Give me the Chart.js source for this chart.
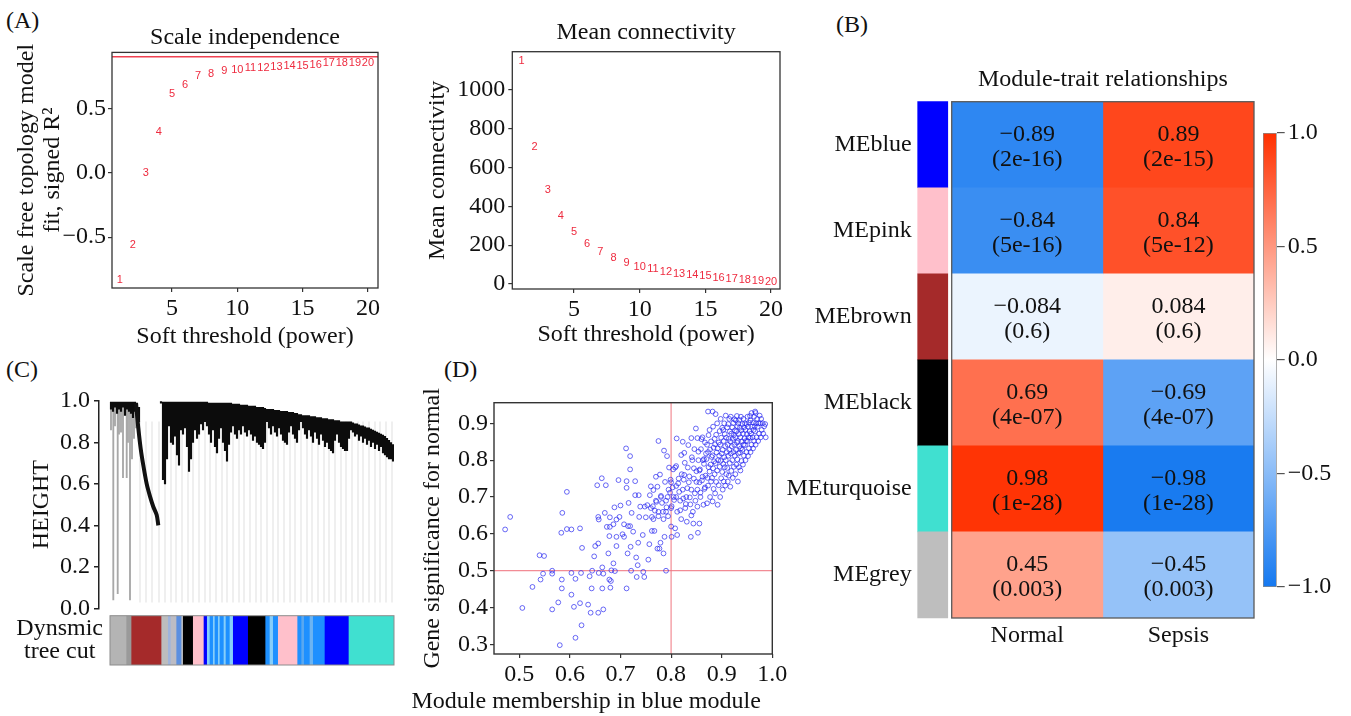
<!DOCTYPE html>
<html>
<head>
<meta charset="utf-8">
<script src="https://cdn.jsdelivr.net/npm/chart.js@4.4.0/dist/chart.umd.min.js"></script>
<style>
  body { margin: 0; background: #fff; width: 1351px; height: 716px; overflow: hidden; position: relative; font-family: 'Liberation Serif', serif; }
  .panel { position: absolute; }
  .tag { position: absolute; font-size: 24px; line-height: 24px; color: #111; }
</style>
</head>
<body>
<div class="tag" style="left:6px;top:8px">(A)</div>
<div class="tag" style="left:836px;top:12px">(B)</div>
<div class="tag" style="left:6px;top:357px">(C)</div>
<div class="tag" style="left:444px;top:357px">(D)</div>

<div class="panel" style="left:0;top:0;width:400px;height:360px"><canvas id="scale-fit"></canvas></div>
<div class="panel" style="left:400px;top:0;width:400px;height:360px"><canvas id="mean-k"></canvas></div>
<div class="panel" style="left:780px;top:40px;width:490px;height:618px"><canvas id="trait-heat"></canvas></div>
<div class="panel" style="left:1240px;top:100px;width:111px;height:520px"><canvas id="heat-scale"></canvas></div>
<div class="panel" style="left:0;top:381px;width:400px;height:249px"><canvas id="dendro"></canvas></div>
<div class="panel" style="left:0;top:600px;width:400px;height:116px"><canvas id="tree-cut"></canvas></div>
<div class="panel" style="left:400px;top:370px;width:472px;height:346px"><canvas id="mm-gs"></canvas></div>

<script>
// ---- (A) soft threshold ----
const powers = [1, 2, 3, 4, 5, 6, 7, 8, 9, 10, 11, 12, 13, 14, 15, 16, 17, 18, 19, 20];
const scaleFitR2 = [-0.83, -0.56, 0.0, 0.32, 0.61, 0.68, 0.75, 0.77, 0.79, 0.80, 0.81, 0.81, 0.82, 0.83, 0.83, 0.84, 0.85, 0.85, 0.85, 0.85];
const meanConnectivity = [1149, 705, 483, 348, 268, 205, 165, 132, 107, 89, 76, 64, 52, 44, 39, 30, 27, 21, 17, 12];
const r2Cutoff = 0.9;

// ---- (B) module-trait relationships ----
const modules = ['MEblue', 'MEpink', 'MEbrown', 'MEblack', 'MEturquoise', 'MEgrey'];
const moduleColors = ['#0000ff', '#ffc0cb', '#a52a2a', '#000000', '#40e0d0', '#bebebe'];
const traits = ['Normal', 'Sepsis'];
const normalCorr = [-0.89, -0.84, -0.084, 0.69, 0.98, 0.45];
const normalP = ['2e-16', '5e-16', '0.6', '4e-07', '1e-28', '0.003'];
const sepsisCorr = [0.89, 0.84, 0.084, -0.69, -0.98, -0.45];
const sepsisP = ['2e-15', '5e-12', '0.6', '4e-07', '1e-28', '0.003'];
const colorbarTicks = [-1, -0.5, 0, 0.5, 1];

// ---- (C) gene dendrogram, one column every 2 leaf units (null = no branch mass) ----
const branchTop = [
  0.995, 0.995, 0.995, 0.995, 0.995, 0.995, 0.995, 0.995, 0.995, 0.995, 0.995, 0.995, 0.995,
  0.99, 0.97, null, null, null, null, null, null, null, null, null, null,
  0.997, 0.995, 0.995, 0.995,
  0.995, 0.995, 0.995, 0.995, 0.995, 0.995, 0.995, 0.995, 0.995, 0.995,
  0.995, 0.995, 0.995, 0.995, 0.995, 0.995, 0.995, 0.995, 0.995, 0.995,
  0.99, 0.99, 0.99, 0.99, 0.99, 0.99, 0.99, 0.99, 0.99, 0.99, 0.99, 0.99,
  0.985, 0.985, 0.985, 0.985, 0.98, 0.98, 0.98, 0.98, 0.975, 0.975, 0.975, 0.975,
  0.97, 0.97, 0.97, 0.97, 0.965,
  0.96, 0.96, 0.96, 0.96, 0.955, 0.955, 0.955, 0.95, 0.95, 0.95, 0.95, 0.945, 0.945, 0.945, 0.94, 0.94, 0.935,
  0.935, 0.93, 0.93, 0.93, 0.93, 0.925, 0.925, 0.925, 0.92, 0.92, 0.92, 0.915, 0.915, 0.915, 0.91, 0.91, 0.91,
  0.905, 0.905, 0.905, 0.90, 0.90, 0.90, 0.90, 0.90,
  0.90, 0.895, 0.89, 0.89, 0.885, 0.88, 0.88, 0.875, 0.87, 0.87, 0.865, 0.86, 0.855, 0.85, 0.845, 0.84,
  0.835, 0.83, 0.82, 0.81, 0.80, 0.79
];
const branchLow = [
  0.96, 0.95, 0.97, 0.94, 0.96, 0.95, 0.97, 0.93, 0.96, 0.95, 0.94, 0.92, 0.95,
  0.92, 0.90, null, null, null, null, null, null, null, null, null, null,
  0.99, 0.62, 0.60, 0.72,
  0.88, 0.80, 0.79, 0.83, 0.74, 0.69, 0.86, 0.84, 0.87, 0.78,
  0.66, 0.72, 0.80, 0.86, 0.82, 0.84, 0.89, 0.86, 0.90, 0.88,
  0.84, 0.80, 0.86, 0.78, 0.75, 0.82, 0.87, 0.80, 0.76, 0.71, 0.79, 0.85,
  0.88, 0.84, 0.82, 0.86, 0.84, 0.88, 0.85, 0.83, 0.86, 0.84, 0.81, 0.83,
  0.80, 0.79, 0.78, 0.77, 0.80,
  0.90, 0.87, 0.84, 0.88, 0.85, 0.83, 0.87, 0.84, 0.81, 0.80, 0.79, 0.85, 0.88, 0.84, 0.82, 0.80, 0.86,
  0.90, 0.87, 0.84, 0.82, 0.86, 0.83, 0.80, 0.85, 0.82, 0.79, 0.84, 0.81, 0.78, 0.80, 0.77, 0.76, 0.75,
  0.81, 0.84, 0.80, 0.78, 0.77, 0.76, 0.76, 0.82,
  0.86, 0.85, 0.83, 0.84, 0.81, 0.83, 0.80, 0.82, 0.79, 0.81, 0.78, 0.80, 0.77, 0.79, 0.76, 0.78,
  0.75, 0.74, 0.73, 0.72, 0.72, 0.71
];
// the long brown-module branch
const tailX = [26, 26.7, 28.3, 30.7, 33.3, 36.7, 40, 43.3, 46.7, 48.3];
const tailY = [0.99, 0.95, 0.87, 0.77, 0.69, 0.60, 0.54, 0.49, 0.45, 0.40];
// grey singleton leaves and shaded sub-branches of the left cluster
const greyLeafX = [1, 3.3, 5, 7.7, 9, 11, 13, 16.7, 18, 20, 22, 24, 26];
const greyLeafLow = [0.86, 0.04, 0.88, 0.07, 0.84, 0.85, 0.63, 0.63, 0.80, 0.04, 0.72, 0.82, 0.87];
const faintLeafX = [30, 36, 42, 49, 55, 61, 66, 72, 78, 83, 89, 95, 100, 106, 112, 117, 123, 129, 134, 140, 146, 151,
  157, 163, 168, 174, 180, 185, 191, 197, 202, 208, 214, 219, 225, 231, 236, 242, 248, 253, 259, 265, 270, 276, 282];
const leafFloor = 0.03;

// dynamic tree cut colour strip, in the same leaf units
const cutStart = [0, 16.7, 21.7, 51.7, 58.3, 61, 66.7, 71.7, 73.3, 83.3, 94, 97.3, 100, 103.3, 105, 108.3, 110, 114, 116, 120,
  123.3, 138.3, 155.7, 160, 163.3, 168.3, 187.7, 191.7, 194.3, 200, 203.3, 215, 239];
const cutEnd = [16.7, 21.7, 51.7, 58.3, 61, 66.7, 71.7, 73.3, 83.3, 94, 97.3, 100, 103.3, 105, 108.3, 110, 114, 116, 120, 123.3,
  138.3, 155.7, 160, 163.3, 168.3, 187.7, 191.7, 194.3, 200, 203.3, 215, 239, 284];
const cutColor = ['#b4b4b4', '#9a9a9a', '#a52a2a', '#bdbdbd', '#9fb4dc', '#bcbcc4', '#5b8fe0', '#bdbdbd', '#000000', '#ffc0cb',
  '#0000ff', '#87cefa', '#1e90ff', '#87cefa', '#1e90ff', '#87cefa', '#1e90ff', '#87cefa', '#1e90ff', '#87cefa',
  '#0000ff', '#000000', '#1e90ff', '#87cefa', '#1e90ff', '#ffc0cb', '#1e90ff', '#5aa8f0', '#1e90ff', '#6cb4f2', '#1e90ff',
  '#0000ff', '#40e0d0'];

// ---- (D) module membership vs gene significance ----
const mmThreshold = 0.8;
const gsThreshold = 0.5;
const genePoints = [
  [0.472,0.612],[0.482,0.646],[0.506,0.399],[0.526,0.456],[0.540,0.542],[0.549,0.540],[0.542,0.476],[0.547,0.492],
  [0.565,0.500],[0.565,0.492],[0.565,0.395],[0.577,0.414],[0.580,0.298],[0.584,0.476],[0.584,0.452],[0.583,0.603],
  [0.585,0.657],[0.594,0.714],[0.594,0.613],[0.603,0.612],[0.603,0.494],[0.603,0.435],[0.608,0.402],[0.611,0.478],
  [0.611,0.318],[0.620,0.615],[0.620,0.412],[0.622,0.494],[0.623,0.352],[0.624,0.562],[0.636,0.408],[0.639,0.485],
  [0.641,0.386],[0.643,0.452],[0.644,0.500],[0.648,0.539],[0.650,0.567],[0.654,0.732],[0.656,0.646],[0.656,0.574],
  [0.657,0.494],[0.656,0.386],[0.657,0.639],[0.663,0.751],[0.664,0.509],[0.664,0.452],[0.666,0.395],[0.666,0.492],
  [0.669,0.657],[0.671,0.732],[0.673,0.619],[0.676,0.547],[0.678,0.476],[0.678,0.594],[0.679,0.645],[0.679,0.619],
  [0.680,0.454],[0.681,0.472],[0.682,0.501],[0.686,0.626],[0.686,0.520],[0.688,0.672],[0.689,0.499],[0.692,0.567],
  [0.692,0.592],[0.692,0.639],[0.696,0.746],[0.698,0.646],[0.700,0.677],[0.704,0.599],[0.707,0.626],[0.707,0.592],
  [0.711,0.832],[0.712,0.725],[0.712,0.743],[0.712,0.452],[0.714,0.547],[0.715,0.621],[0.716,0.684],[0.719,0.811],
  [0.719,0.775],[0.719,0.621],[0.720,0.565],[0.721,0.500],[0.722,0.657],[0.725,0.606],[0.729,0.743],[0.729,0.705],
  [0.731,0.536],[0.732,0.483],[0.734,0.515],[0.735,0.576],[0.736,0.705],[0.737,0.646],[0.739,0.674],[0.744,0.597],
  [0.745,0.497],[0.747,0.483],[0.748,0.674],[0.750,0.645],[0.753,0.678],[0.755,0.530],[0.757,0.572],[0.758,0.705],
  [0.760,0.729],[0.762,0.646],[0.762,0.608],[0.764,0.675],[0.765,0.719],[0.767,0.608],[0.768,0.663],[0.770,0.755],
  [0.771,0.687],[0.773,0.728],[0.773,0.560],[0.775,0.852],[0.775,0.648],[0.777,0.560],[0.778,0.761],[0.779,0.576],
  [0.780,0.703],[0.782,0.684],[0.784,0.660],[0.785,0.547],[0.786,0.826],[0.787,0.592],[0.788,0.741],[0.790,0.500],
  [0.791,0.672],[0.792,0.811],[0.793,0.700],[0.794,0.648],[0.796,0.780],[0.798,0.712],[0.799,0.747],[0.801,0.592],
  [0.801,0.675],[0.803,0.726],[0.804,0.775],[0.806,0.692],[0.808,0.615],[0.810,0.784],[0.811,0.859],[0.812,0.597],
  [0.814,0.737],[0.816,0.714],[0.818,0.664],[0.820,0.814],[0.821,0.762],[0.823,0.850],[0.824,0.696],[0.825,0.747],
  [0.827,0.793],[0.829,0.681],[0.831,0.633],[0.832,0.724],[0.834,0.841],[0.836,0.756],[0.837,0.699],[0.839,0.592],
  [0.841,0.808],[0.843,0.660],[0.844,0.628],[0.845,0.778],[0.847,0.710],[0.849,0.886],[0.850,0.741],[0.852,0.674],
  [0.853,0.603],[0.854,0.823],[0.856,0.628],[0.857,0.775],[0.858,0.712],[0.860,0.857],[0.862,0.755],[0.864,0.679],
  [0.865,0.803],[0.867,0.726],
  [0.79,0.69],[0.795,0.72],[0.80,0.67],[0.805,0.70],[0.81,0.73],[0.812,0.66],[0.815,0.75],[0.818,0.69],[0.82,0.64],
  [0.823,0.72],[0.826,0.76],[0.828,0.67],[0.83,0.70],[0.833,0.78],[0.835,0.74],[0.838,0.68],[0.84,0.72],[0.842,0.80],
  [0.845,0.75],[0.848,0.69],[0.85,0.77],[0.852,0.72],[0.854,0.80],[0.856,0.74],[0.84,0.65],[0.785,0.64],[0.78,0.70],
  [0.775,0.66],[0.77,0.69],[0.765,0.64],[0.76,0.67],[0.80,0.62],[0.808,0.78],[0.826,0.82],[0.846,0.83],[0.852,0.86],
  [0.84,0.86],[0.80,0.74],[0.79,0.66],[0.81,0.70],
  [0.858,0.70],[0.861,0.745],[0.856,0.772],[0.863,0.80],[0.859,0.83],[0.862,0.862],
  [0.866,0.722],[0.868,0.758],[0.865,0.79],[0.869,0.818],[0.867,0.848],
  [0.871,0.683],[0.873,0.731],[0.872,0.752],[0.874,0.781],[0.87,0.803],[0.873,0.822],[0.871,0.842],[0.874,0.868],[0.873,0.932],
  [0.877,0.70],[0.879,0.742],[0.876,0.769],[0.878,0.788],[0.88,0.809],[0.877,0.829],[0.879,0.851],[0.876,0.882],[0.882,0.932],
  [0.882,0.688],[0.884,0.722],[0.881,0.752],[0.883,0.778],[0.885,0.797],[0.882,0.813],[0.884,0.834],[0.886,0.858],[0.883,0.891],
  [0.887,0.71],[0.889,0.741],[0.886,0.762],[0.888,0.792],[0.89,0.821],[0.887,0.843],[0.889,0.869],[0.891,0.90],[0.888,0.925],
  [0.892,0.679],[0.894,0.732],[0.891,0.772],[0.893,0.80],[0.895,0.812],[0.892,0.832],[0.894,0.848],[0.896,0.879],
  [0.897,0.70],[0.899,0.751],[0.896,0.782],[0.898,0.798],[0.9,0.818],[0.897,0.842],[0.899,0.861],[0.901,0.888],[0.898,0.912],
  [0.902,0.72],[0.904,0.742],[0.901,0.768],[0.903,0.79],[0.905,0.808],[0.902,0.828],[0.904,0.852],[0.906,0.871],[0.903,0.882],[0.905,0.90],
  [0.907,0.731],[0.909,0.762],[0.906,0.781],[0.908,0.80],[0.91,0.822],[0.907,0.838],[0.909,0.861],[0.911,0.889],[0.908,0.921],
  [0.912,0.742],[0.914,0.758],[0.911,0.779],[0.913,0.812],[0.915,0.828],[0.912,0.842],[0.914,0.858],[0.916,0.878],[0.913,0.898],[0.915,0.912],
  [0.917,0.728],[0.919,0.771],[0.916,0.792],[0.918,0.818],[0.92,0.838],[0.917,0.851],[0.919,0.872],[0.921,0.889],[0.918,0.918],
  [0.922,0.752],[0.924,0.782],[0.921,0.80],[0.923,0.822],[0.925,0.842],[0.922,0.858],[0.924,0.868],[0.926,0.881],[0.923,0.901],[0.925,0.911],
  [0.927,0.762],[0.929,0.788],[0.926,0.812],[0.928,0.828],[0.93,0.848],[0.927,0.862],[0.929,0.878],[0.931,0.892],[0.928,0.908],[0.93,0.92],
  [0.932,0.742],[0.934,0.781],[0.931,0.802],[0.933,0.818],[0.935,0.838],[0.932,0.852],[0.934,0.871],[0.936,0.888],[0.933,0.90],[0.935,0.909],
  [0.937,0.772],[0.939,0.798],[0.936,0.821],[0.938,0.832],[0.94,0.851],[0.937,0.862],[0.939,0.881],[0.941,0.898],[0.938,0.918],
  [0.942,0.788],[0.944,0.812],[0.941,0.828],[0.943,0.842],[0.945,0.859],[0.942,0.872],[0.944,0.889],[0.946,0.90],[0.943,0.912],
  [0.947,0.80],[0.949,0.822],[0.946,0.841],[0.948,0.852],[0.95,0.871],[0.947,0.882],[0.949,0.898],[0.951,0.918],
  [0.952,0.811],[0.954,0.832],[0.951,0.852],[0.953,0.862],[0.955,0.878],[0.952,0.891],[0.954,0.902],[0.956,0.92],
  [0.957,0.822],[0.959,0.842],[0.956,0.861],[0.958,0.872],[0.96,0.891],[0.957,0.908],[0.959,0.928],
  [0.962,0.832],[0.964,0.852],[0.961,0.862],[0.963,0.882],[0.965,0.892],[0.962,0.902],[0.964,0.918],[0.966,0.932],
  [0.967,0.842],[0.969,0.862],[0.966,0.878],[0.968,0.90],[0.97,0.912],[0.967,0.928],
  [0.972,0.852],[0.974,0.872],[0.971,0.891],[0.973,0.90],[0.975,0.921],
  [0.977,0.862],[0.979,0.882],[0.976,0.90],[0.978,0.912],
  [0.982,0.872],[0.984,0.892],[0.981,0.90],[0.987,0.862],[0.986,0.898]
];

// ------------------------------------------------------------
Chart.defaults.font.family = "'Liberation Serif', 'Times New Roman', serif";
Chart.defaults.font.size = 24;
Chart.defaults.font.lineHeight = 1.2;
Chart.defaults.color = '#111';
Chart.defaults.animation = false;
Chart.defaults.responsive = true;
Chart.defaults.maintainAspectRatio = false;
Chart.defaults.plugins.legend.display = false;
Chart.defaults.plugins.tooltip.enabled = false;

const minus = v => String(v).replace('-', '\u2212');
const oneDecimal = v => minus(Number(v).toFixed(1));

// force an axis box to a fixed size so the plot areas line up
function fixSize(width, height) {
  return scale => {
    if (width != null) scale.width = width;
    if (height != null) scale.height = height;
    scale.paddingTop = scale.paddingBottom = scale.paddingLeft = scale.paddingRight = 0;
  };
}
const setTicks = values => scale => { scale.ticks = values.map(v => ({ value: v })); };

function corrColor(v) {
  const t = Math.min(1, Math.abs(v));
  const end = v < 0 ? [20, 120, 240] : [255, 48, 0];
  const c = end.map(e => Math.round(255 + (e - 255) * t));
  return `rgb(${c[0]}, ${c[1]}, ${c[2]})`;
}

const framePlugin = {
  id: 'frame',
  afterDatasetsDraw(chart, args, opts) {
    if (!opts || !opts.color) return;
    const { ctx, chartArea: a } = chart;
    ctx.save();
    ctx.strokeStyle = opts.color;
    ctx.lineWidth = opts.width || 1;
    ctx.strokeRect(a.left, a.top, a.right - a.left, a.bottom - a.top);
    ctx.restore();
  }
};

const pointTextPlugin = {
  id: 'pointText',
  afterDatasetsDraw(chart) {
    const ctx = chart.ctx;
    chart.data.datasets.forEach((ds, di) => {
      if (!ds.pointLabels) return;
      ctx.save();
      ctx.font = "11px 'Liberation Sans', Arial, sans-serif";
      ctx.fillStyle = ds.labelColor;
      ctx.textAlign = 'center';
      ctx.textBaseline = 'middle';
      chart.getDatasetMeta(di).data.forEach((el, i) => ctx.fillText(ds.pointLabels[i], el.x, el.y));
      ctx.restore();
    });
  }
};

const cellTextPlugin = {
  id: 'cellText',
  afterDatasetsDraw(chart) {
    const ctx = chart.ctx;
    chart.data.datasets.forEach((ds, di) => {
      if (!ds.cellValues) return;
      ctx.save();
      ctx.font = "24px 'Liberation Serif', serif";
      ctx.fillStyle = '#111';
      ctx.textAlign = 'center';
      ctx.textBaseline = 'middle';
      chart.getDatasetMeta(di).data.forEach((el, i) => {
        const cx = (el.x + el.base) / 2;
        ctx.fillText(minus(ds.cellValues[i]), cx, el.y - 10);
        ctx.fillText('(' + ds.cellP[i] + ')', cx, el.y + 15);
      });
      ctx.restore();
    });
  }
};

const tickGrid = { drawOnChartArea: false, drawTicks: true, tickLength: 4, color: '#333', lineWidth: 1.2 };
const noGrid = { display: false, drawTicks: false };

// ---- (A) left: scale independence ----
new Chart(document.getElementById('scale-fit'), {
  type: 'scatter',
  data: {
    datasets: [
      {
        data: powers.map((p, i) => ({ x: p, y: scaleFitR2[i] })),
        pointRadius: 0,
        pointLabels: powers.map(String),
        labelColor: '#ee2a3e'
      },
      {
        type: 'line',
        data: [{ x: 0.41, y: r2Cutoff }, { x: 20.77, y: r2Cutoff }],
        borderColor: '#f04050',
        borderWidth: 1.6,
        pointRadius: 0
      }
    ]
  },
  options: {
    layout: { padding: { right: 22 } },
    plugins: {
      frame: { color: '#333', width: 1.3 },
      title: { display: true, text: 'Scale independence', fullSize: false, font: { weight: 'normal', size: 24 }, padding: { top: 23.6, bottom: 0 } }
    },
    scales: {
      x: {
        type: 'linear', min: 0.41, max: 20.77,
        afterBuildTicks: setTicks([5, 10, 15, 20]),
        ticks: { padding: 2 },
        grid: tickGrid, border: { display: false },
        title: { display: true, text: 'Soft threshold (power)', padding: { top: 0, bottom: 8.6 } },
        afterFit: fixSize(null, 72)
      },
      y: {
        min: -0.895, max: 0.934,
        afterBuildTicks: setTicks([-0.5, 0, 0.5]),
        ticks: { padding: 2, callback: oneDecimal },
        grid: tickGrid, border: { display: false },
        title: { display: true, text: ['Scale free topology model', 'fit, signed R\u00b2'], font: { size: 24, lineHeight: 1.08 }, padding: { top: 14 } },
        afterFit: fixSize(112, null)
      }
    }
  },
  plugins: [framePlugin, pointTextPlugin]
});

// ---- (A) right: mean connectivity ----
new Chart(document.getElementById('mean-k'), {
  type: 'scatter',
  data: {
    datasets: [{
      data: powers.map((p, i) => ({ x: p, y: meanConnectivity[i] })),
      pointRadius: 0,
      pointLabels: powers.map(String),
      labelColor: '#ee2a3e'
    }]
  },
  options: {
    layout: { padding: { right: 20 } },
    plugins: {
      frame: { color: '#333', width: 1.3 },
      title: { display: true, text: 'Mean connectivity', fullSize: false, font: { weight: 'normal', size: 24 }, padding: { top: 17.9, bottom: 5 } }
    },
    scales: {
      x: {
        type: 'linear', min: 0.3, max: 20.68,
        afterBuildTicks: setTicks([5, 10, 15, 20]),
        ticks: { padding: 2 },
        grid: tickGrid, border: { display: false },
        title: { display: true, text: 'Soft threshold (power)', padding: { top: 0, bottom: 10.6 } },
        afterFit: fixSize(null, 71)
      },
      y: {
        min: -26, max: 1197,
        afterBuildTicks: setTicks([0, 200, 400, 600, 800, 1000]),
        ticks: { padding: 3, callback: v => String(v) },
        grid: tickGrid, border: { display: false },
        title: { display: true, text: 'Mean connectivity', padding: { top: 23.6 } },
        afterFit: fixSize(112.3, null)
      }
    }
  },
  plugins: [framePlugin, pointTextPlugin]
});

// ---- (B) heatmap ----
const barCell = { grouped: false, barPercentage: 1, categoryPercentage: 1, borderWidth: 0 };
new Chart(document.getElementById('trait-heat'), {
  type: 'bar',
  data: {
    labels: modules,
    datasets: [
      Object.assign({ data: modules.map((m, i) => ({ y: i, x: [0, 1] })), backgroundColor: normalCorr.map(corrColor),
        cellValues: normalCorr, cellP: normalP }, barCell),
      Object.assign({ data: modules.map((m, i) => ({ y: i, x: [1, 2] })), backgroundColor: sepsisCorr.map(corrColor),
        cellValues: sepsisCorr, cellP: sepsisP }, barCell),
      Object.assign({ data: modules.map((m, i) => ({ y: i, x: [-0.225, -0.026] })), backgroundColor: moduleColors, clip: false }, barCell)
    ]
  },
  options: {
    indexAxis: 'y',
    layout: { padding: { right: 16 } },
    plugins: {
      frame: { color: '#5a5a5a', width: 1.3 },
      title: { display: true, text: 'Module-trait relationships', fullSize: false, font: { weight: 'normal', size: 24 }, padding: { top: 25.6, bottom: 7.3 } }
    },
    scales: {
      x: {
        type: 'linear', min: 0, max: 2,
        afterBuildTicks: setTicks([0.5, 1.5]),
        ticks: { padding: 3, callback: v => traits[Math.floor(v)] },
        grid: noGrid, border: { display: false },
        afterFit: fixSize(null, 40)
      },
      y: {
        type: 'category',
        ticks: { padding: 40 },
        grid: noGrid, border: { display: false },
        afterFit: fixSize(171.7, null)
      }
    }
  },
  plugins: [framePlugin, cellTextPlugin]
});

// ---- (B) colour key ----
new Chart(document.getElementById('heat-scale'), {
  type: 'bar',
  data: {
    labels: ['r'],
    datasets: [{
      data: [[-1, 1]],
      backgroundColor: ctx => {
        const a = ctx.chart.chartArea;
        if (!a) return '#fff';
        const g = ctx.chart.ctx.createLinearGradient(0, a.bottom, 0, a.top);
        g.addColorStop(0, corrColor(-1));
        g.addColorStop(0.5, '#ffffff');
        g.addColorStop(1, corrColor(1));
        return g;
      },
      borderColor: '#8a8a8a', borderWidth: 1, borderSkipped: false,
      barPercentage: 1, categoryPercentage: 1
    }]
  },
  options: {
    layout: { padding: { left: 23, top: 33, bottom: 33 } },
    scales: {
      x: { display: false },
      y: {
        position: 'right', min: -1, max: 1,
        afterBuildTicks: setTicks(colorbarTicks),
        ticks: { padding: 3, callback: oneDecimal },
        grid: { drawOnChartArea: false, tickLength: 8, color: '#555', lineWidth: 1.2 },
        border: { display: false },
        afterFit: fixSize(74.3, null)
      }
    }
  }
});

// ---- (C) dendrogram ----
const branchData = [];
branchLow.forEach((lo, i) => {
  if (lo !== null) branchData.push({ x: 2 * i + 1, y: [lo, branchTop[i]] });
});
new Chart(document.getElementById('dendro'), {
  type: 'bar',
  data: {
    datasets: [
      { type: 'line', data: tailX.map((x, i) => ({ x: x, y: tailY[i] })), borderColor: '#111',
        borderWidth: 4, pointRadius: 0, tension: 0.3 },
      { data: branchData, backgroundColor: '#0c0c0c', barThickness: 1.5, grouped: false },
      { data: greyLeafX.map((x, i) => ({ x: x, y: [greyLeafLow[i], 0.97] })), backgroundColor: '#a8a8a8',
        barThickness: 1.2, grouped: false },
      { data: faintLeafX.map(x => ({ x: x, y: [leafFloor, 0.9] })), backgroundColor: '#ececec',
        barThickness: 1, grouped: false }
    ]
  },
  options: {
    layout: { padding: { top: 20, bottom: 21.7, right: 6 } },
    scales: {
      x: { type: 'linear', display: false, offset: false, min: -11, max: 284 },
      y: {
        min: 0, max: 1,
        afterBuildTicks: setTicks([0, 0.2, 0.4, 0.6, 0.8, 1.0]),
        ticks: { padding: 4, callback: v => Number(v).toFixed(1) },
        grid: { drawOnChartArea: false, tickLength: 5, color: '#222', lineWidth: 1.5 },
        border: { display: true, color: '#222', width: 1.5 },
        title: { display: true, text: 'HEIGHT', padding: { top: 27.3 } },
        afterFit: fixSize(99, null)
      }
    }
  }
});

// ---- (C) dynamic tree cut strip ----
new Chart(document.getElementById('tree-cut'), {
  type: 'bar',
  data: {
    labels: [['Dynsmic', 'tree cut']],
    datasets: [{
      data: cutStart.map((s, i) => ({ y: 0, x: [s, cutEnd[i]] })),
      backgroundColor: cutColor,
      grouped: false, barPercentage: 1, categoryPercentage: 1, borderWidth: 0
    }]
  },
  options: {
    indexAxis: 'y',
    layout: { padding: { top: 15.7, bottom: 51, right: 6 } },
    plugins: { frame: { color: '#8c8c8c', width: 1 } },
    scales: {
      x: { type: 'linear', display: false, min: 0, max: 284 },
      y: {
        ticks: { crossAlign: 'center', padding: 7, font: { size: 24, lineHeight: 0.98 } },
        grid: noGrid, border: { display: false },
        afterFit: fixSize(110, null)
      }
    }
  },
  plugins: [framePlugin]
});

// ---- (D) module membership vs gene significance ----
const mmMin = 0.45, mmMax = 1.0, gsMin = 0.274, gsMax = 0.956;
new Chart(document.getElementById('mm-gs'), {
  type: 'scatter',
  data: {
    datasets: [
      {
        data: genePoints.map(p => ({ x: p[0], y: p[1] })),
        pointRadius: 2.4, pointBorderWidth: 1,
        pointBackgroundColor: 'rgba(0,0,0,0)', pointBorderColor: 'rgba(35,35,240,0.68)'
      },
      { type: 'line', data: [{ x: mmThreshold, y: gsMin }, { x: mmThreshold, y: gsMax }],
        borderColor: 'rgba(240,120,130,0.85)', borderWidth: 1.2, pointRadius: 0 },
      { type: 'line', data: [{ x: mmMin, y: gsThreshold }, { x: mmMax, y: gsThreshold }],
        borderColor: 'rgba(240,120,130,0.85)', borderWidth: 1.2, pointRadius: 0 }
    ]
  },
  options: {
    layout: { padding: { right: 99.7, top: 32.7 } },
    plugins: {
      frame: { color: '#333', width: 1.4 },
      title: { display: true, position: 'bottom', fullSize: true, text: 'Module membership in blue module',
        font: { weight: 'normal', size: 24 }, padding: { top: 0, bottom: 0 } }
    },
    scales: {
      x: {
        type: 'linear', min: mmMin, max: mmMax,
        afterBuildTicks: setTicks([0.5, 0.6, 0.7, 0.8, 0.9, 1.0]),
        ticks: { padding: 2, callback: oneDecimal },
        grid: tickGrid, border: { display: false },
        afterFit: fixSize(null, 33.2)
      },
      y: {
        min: gsMin, max: gsMax,
        afterBuildTicks: setTicks([0.3, 0.4, 0.5, 0.6, 0.7, 0.8, 0.9]),
        ticks: { padding: 2, callback: oneDecimal },
        grid: tickGrid, border: { display: false },
        title: { display: true, text: 'Gene significance for normal', padding: { top: 18.6 } },
        afterFit: fixSize(94, null)
      }
    }
  },
  plugins: [framePlugin]
});
</script>
</body>
</html>
